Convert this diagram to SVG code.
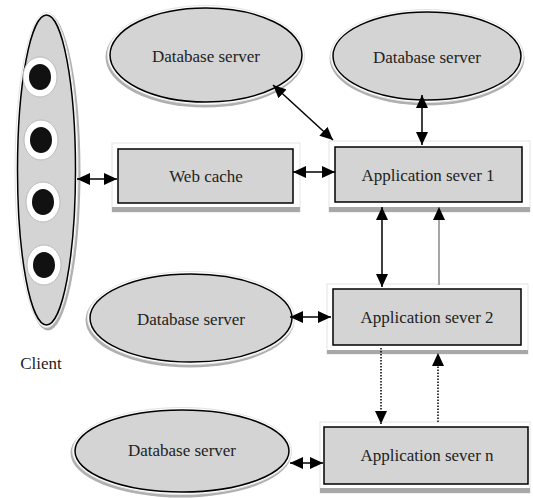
<svg xmlns="http://www.w3.org/2000/svg" width="533" height="498" viewBox="0 0 533 498">
<style>
.main{fill:#d4d4d4;stroke:#000;stroke-width:1.5}
.halo{fill:#fff;stroke:#e4e4e4;stroke-width:1}
.shadow{fill:#b0b0b0}
.bar{fill:#a8a8a8}
text{font-family:"Liberation Serif","Times New Roman",serif;font-size:17px;fill:#222;text-anchor:middle;dominant-baseline:central}
.ln{stroke:#000;stroke-width:1.5;fill:none}
.gray{stroke:#888;stroke-width:1.5;fill:none}
.dot{stroke:#000;stroke-width:1.5;fill:none;stroke-dasharray:1.5 1.5}
</style>
<defs>
<marker id="ah" markerUnits="userSpaceOnUse" markerWidth="13" markerHeight="12" refX="13" refY="6" orient="auto-start-reverse" viewBox="0 0 13 12">
<path d="M0,0 L13,6 L0,12 z" fill="#000"/>
</marker>
</defs>
<g id="client">
<ellipse class="shadow" cx="48" cy="172" rx="32.5" ry="158.5"/>
<ellipse class="halo" cx="46.5" cy="170" rx="31.5" ry="157.5"/>
<ellipse class="main" cx="46.5" cy="170" rx="29" ry="155"/>
<ellipse cx="40" cy="77" rx="17" ry="20" fill="#fff" stroke="#bbb"/>
<ellipse cx="40" cy="77" rx="11" ry="13" fill="#111"/>
<ellipse cx="41" cy="140" rx="17" ry="20" fill="#fff" stroke="#bbb"/>
<ellipse cx="41" cy="140" rx="11" ry="13" fill="#111"/>
<ellipse cx="43" cy="202" rx="17" ry="20" fill="#fff" stroke="#bbb"/>
<ellipse cx="43" cy="202" rx="11" ry="13" fill="#111"/>
<ellipse cx="44" cy="265" rx="17" ry="20" fill="#fff" stroke="#bbb"/>
<ellipse cx="44" cy="265" rx="11" ry="13" fill="#111"/>
<text x="41" y="363">Client</text>
</g>
<g id="db1">
<ellipse class="shadow" cx="205" cy="57" rx="99.5" ry="50.5"/>
<ellipse class="halo" cx="206" cy="55" rx="98.5" ry="49.5"/>
<ellipse class="main" cx="206" cy="55" rx="96" ry="47"/>
<text x="206" y="56">Database server</text>
</g>
<g id="db2">
<ellipse class="shadow" cx="427" cy="58" rx="97.5" ry="47.5"/>
<ellipse class="halo" cx="427" cy="56" rx="96.5" ry="46.5"/>
<ellipse class="main" cx="427" cy="56" rx="94" ry="44"/>
<text x="427" y="57">Database server</text>
</g>
<g id="webcache">
<rect x="112" y="143" width="188" height="69" class="halo"/>
<rect x="112" y="207" width="188" height="5" class="bar"/>
<rect x="118" y="149" width="175" height="54" class="main"/>
<text x="206" y="176">Web cache</text>
</g>
<g id="app1">
<rect x="329" y="141" width="201" height="71" class="halo"/>
<rect x="329" y="207" width="201" height="5" class="bar"/>
<rect x="335" y="147" width="187" height="55" class="main"/>
<text x="428" y="175">Application sever 1</text>
</g>
<g id="db3">
<ellipse class="shadow" cx="190" cy="320" rx="104.5" ry="47.5"/>
<ellipse class="halo" cx="191" cy="318" rx="103.5" ry="46.5"/>
<ellipse class="main" cx="191" cy="318" rx="101" ry="44"/>
<text x="191" y="319">Database server</text>
</g>
<g id="app2">
<rect x="327" y="284" width="201" height="70" class="halo"/>
<rect x="327" y="350" width="201" height="4" class="bar"/>
<rect x="333" y="289" width="188" height="56" class="main"/>
<text x="427" y="317">Application sever 2</text>
</g>
<g id="db4">
<ellipse class="shadow" cx="181" cy="453" rx="110.5" ry="44.5"/>
<ellipse class="halo" cx="182" cy="451" rx="109.5" ry="43.5"/>
<ellipse class="main" cx="182" cy="451" rx="107" ry="41"/>
<text x="182" y="450">Database server</text>
</g>
<g id="appn">
<rect x="320" y="422" width="210" height="71" class="halo"/>
<rect x="320" y="488" width="210" height="5" class="bar"/>
<rect x="324" y="427" width="204" height="57" class="main"/>
<text x="427" y="455">Application sever n</text>
</g>
<g id="connectors">
<line class="ln" x1="77" y1="179" x2="117" y2="179" marker-start="url(#ah)" marker-end="url(#ah)"/>
<line class="ln" x1="293" y1="172" x2="335" y2="172" marker-start="url(#ah)" marker-end="url(#ah)"/>
<line class="ln" x1="273" y1="85" x2="333" y2="140" marker-start="url(#ah)" marker-end="url(#ah)"/>
<line class="ln" x1="422" y1="95" x2="422" y2="145" marker-start="url(#ah)" marker-end="url(#ah)"/>
<line class="ln" x1="382" y1="207" x2="382" y2="287" marker-start="url(#ah)" marker-end="url(#ah)"/>
<line class="gray" x1="439" y1="285" x2="439" y2="207" marker-end="url(#ah)"/>
<line class="ln" x1="290" y1="317" x2="331" y2="317" marker-start="url(#ah)" marker-end="url(#ah)"/>
<line class="dot" x1="381" y1="348" x2="381" y2="424" marker-end="url(#ah)"/>
<line class="dot" x1="438" y1="422" x2="438" y2="353" marker-end="url(#ah)"/>
<line class="ln" x1="290" y1="463" x2="323" y2="463" marker-start="url(#ah)" marker-end="url(#ah)"/>
</g>
</svg>
